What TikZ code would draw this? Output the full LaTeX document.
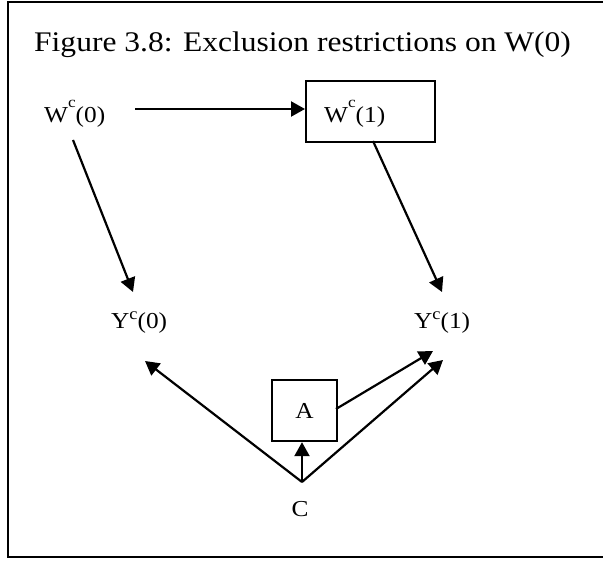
\documentclass[tikz,border=0pt]{standalone}
\usepackage{fontspec}
\setmainfont{Liberation Serif}[FakeStretch=1.11]
\usetikzlibrary{arrows.meta}

% superscript "c" helpers
\newcommand{\supW}{\raisebox{15pt}{\fontsize{15.5}{15.5}\selectfont c}}
\newcommand{\supY}{\raisebox{9pt}{\fontsize{16.5}{16.5}\selectfont c}}

\begin{document}
\begin{tikzpicture}[x=1pt,y=-1pt,
  lbl/.style={anchor=base west,inner sep=0pt,font=\fontsize{22.8}{26}\selectfont},
  boxnode/.style={draw,line width=2.2pt,anchor=north west,inner sep=0pt},
  arr/.style={line width=2.2pt,-{Triangle[length=14pt,width=15pt]}}]
\useasboundingbox (0,0) rectangle (603,561);
\fill[white] (0,0) rectangle (603,561);
% outer frame
\draw[line width=2pt] (8,1.8) rectangle (612,557);

% title
\node[anchor=base west,inner sep=0pt,font=\fontsize{28.4}{34}\selectfont] (title) at (34,52) {Figure 3.8: Exclusion restrictions on W(0)};

% variables
\node[lbl] (w0) at (44,122.7) {W\supW(0)};
\node[boxnode,minimum width=129pt,minimum height=61pt] (w1box) at (305,80) {};
\node[lbl] (w1) at (324,122.7) {W\supW(1)};
\node[lbl] (y0) at (111,329) {Y\supY(0)};
\node[lbl] (y1) at (414,329) {Y\supY(1)};
\node[boxnode,minimum width=65pt,minimum height=61pt] (abox) at (271,379) {};
\node[font=\fontsize{22.8}{26}\selectfont,inner sep=0pt] (a) at (abox.center) {A};
\node[lbl,anchor=base] (c) at (300,516.5) {C};

% connector end points
\coordinate (w0r) at (135,109);
\coordinate (w0b) at (73,140);
\coordinate (y0t) at (133,292);
\coordinate (w1b) at (373,141);
\coordinate (y1t) at (442,292);
\coordinate (capex) at (302,482);
\coordinate (y0b) at (145,361);
\coordinate (y1b) at (443,360);
\coordinate (y1ba) at (433,351);
\coordinate (ar) at (336,409);

% connectors
\draw[arr] (w0r) -- (w1box.west |- w0r);
\draw[arr] (w0b) -- (y0t);
\draw[arr] (w1b) -- (y1t);
\draw[arr] (capex) -- (y0b);
\draw[arr] (capex) -- (y1b);
\draw[arr] (capex) -- (capex |- abox.south);
\draw[arr] (ar) -- (y1ba);
\end{tikzpicture}
\end{document}
